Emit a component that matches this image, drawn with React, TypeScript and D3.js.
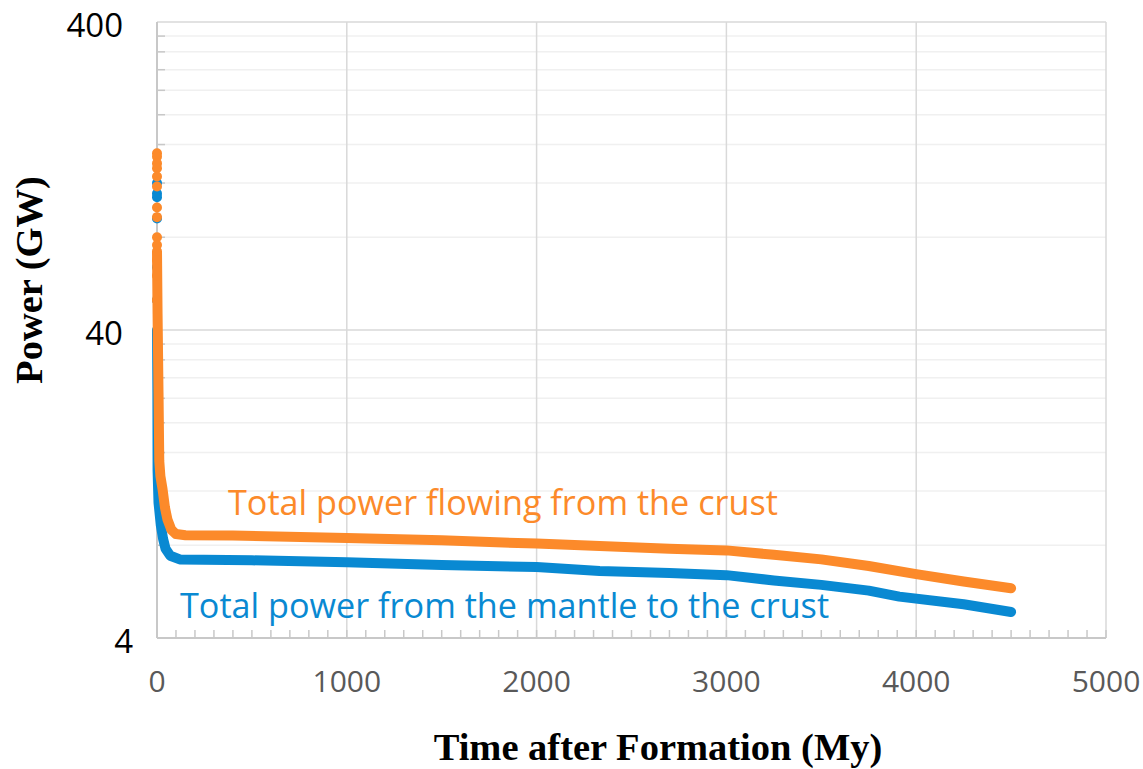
import React from 'react'
import * as d3 from 'd3'

// values
const crustSpike: [number, number][] = [
  [0, 150], [0, 146], [0, 139], [0, 134], [0, 126], [0, 117], [0, 100],
  [0, 93], [0, 80], [0, 75.5], [0, 67.5], [0, 60], [0, 50],
]
const mantleSpike: [number, number][] = [
  [0, 120], [0, 111], [0, 108], [0, 92], [0, 64], [0, 50], [0, 39],
]
const crustCurve: [number, number][] = [
  [0, 72], [3, 45], [8, 25], [12, 15], [18, 13.4], [29, 12.2], [42, 10.6], [55, 9.7],
  [75, 9.0], [100, 8.7], [150, 8.62],
  [400, 8.6], [1000, 8.45], [1500, 8.3], [2000, 8.1], [2332, 7.95], [2700, 7.8],
  [3000, 7.7], [3250, 7.45], [3500, 7.2], [3750, 6.85], [4000, 6.45], [4250, 6.1], [4500, 5.8],
]
const mantleCurve: [number, number][] = [
  [0, 40], [2, 25], [3, 14], [8, 11], [20, 9.3], [32, 8.4], [45, 7.8], [70, 7.4], [120, 7.2],
  [500, 7.15], [1000, 7.05], [1500, 6.9], [2000, 6.8], [2332, 6.6], [2700, 6.5],
  [3000, 6.4], [3250, 6.15], [3500, 5.95], [3750, 5.7], [3911, 5.45], [4250, 5.15], [4500, 4.86],
]
const xTicks = [0, 1000, 2000, 3000, 4000, 5000]
const yTicks = [4, 40, 400]
const yMinor = [8, 12, 16, 20, 24, 28, 32, 36, 80, 120, 160, 200, 240, 280, 320, 360]
const xMinor = d3.range(0, 5001, 100)

const ORANGE = '#FC8A2A'
const BLUE = '#0989D2'
const GRID = '#d9d9d9'
const MINOR = '#f0f0f0'

export default function App() {
  const x = d3.scaleLinear().domain([0, 5000]).range([157, 1106])
  const y = d3.scaleLog().domain([4, 400]).range([638, 22])
  const line = d3.line<[number, number]>().x(d => x(d[0])).y(d => y(d[1])).curve(d3.curveLinear)

  return (
    <svg width={1143} height={769} style={{ position: 'absolute', left: 0, top: 0, background: '#fff' }}>
      {/* minor horizontal gridlines */}
      {yMinor.map(v => (
        <line key={'ym' + v} x1={x(0)} x2={x(5000)} y1={y(v)} y2={y(v)} stroke={MINOR} strokeWidth={1.5} />
      ))}
      {/* major gridlines */}
      {yTicks.map(v => (
        <line key={'yg' + v} x1={x(0)} x2={x(5000)} y1={y(v)} y2={y(v)} stroke={GRID} strokeWidth={1.5} />
      ))}
      {xTicks.slice(1).map(v => (
        <line key={'xg' + v} x1={x(v)} x2={x(v)} y1={y(400)} y2={y(4)} stroke={GRID} strokeWidth={1.5} />
      ))}
      {/* axes */}
      <line x1={x(0)} x2={x(0)} y1={y(400)} y2={y(4)} stroke="#c8c8c8" strokeWidth={2} />
      <line x1={x(0)} x2={x(5000)} y1={y(4)} y2={y(4)} stroke="#c8c8c8" strokeWidth={2} />
      {yMinor.map(v => (
        <line key={'yt' + v} x1={x(0)} x2={x(0) + 8} y1={y(v)} y2={y(v)} stroke="#c8c8c8" strokeWidth={1.5} />
      ))}
      {xMinor.map(v => (
        <line key={'xt' + v} x1={x(v)} x2={x(v)} y1={y(4)} y2={y(4) - 8} stroke="#c8c8c8" strokeWidth={1.5} />
      ))}

      {/* series */}
      <path d={line(mantleCurve) ?? ''} fill="none" stroke={BLUE} strokeWidth={10} strokeLinejoin="round" strokeLinecap="round" />
      {mantleSpike.map((d, i) => (
        <circle key={'ms' + i} cx={x(d[0])} cy={y(d[1])} r={5} fill={BLUE} />
      ))}
      <path d={line(crustCurve) ?? ''} fill="none" stroke={ORANGE} strokeWidth={10} strokeLinejoin="round" strokeLinecap="round" />
      {crustSpike.map((d, i) => (
        <circle key={'cs' + i} cx={x(d[0])} cy={y(d[1])} r={5} fill={ORANGE} />
      ))}

      {/* tick labels */}
      {yTicks.map(v => (
        <text key={'yl' + v} x={v === 4 ? 133 : 123} y={y(v) + 2} textAnchor="end" dominantBaseline="central"
          fontFamily="Open Sans" fontSize={33} fill="#000">{v}</text>
      ))}
      {xTicks.map(v => (
        <text key={'xl' + v} x={x(v)} y={692} textAnchor="middle"
          fontFamily="Open Sans" fontSize={30} fill="#595959">{v}</text>
      ))}

      {/* series labels */}
      <text x={228} y={515} fontFamily="Open Sans" fontSize={34.2} fill={ORANGE}>Total power flowing from the crust</text>
      <text x={180} y={618} fontFamily="Open Sans" fontSize={34.2} fill={BLUE}>Total power from the mantle to the crust</text>

      {/* axis titles */}
      <text x={658} y={760} textAnchor="middle" fontFamily="Liberation Serif" fontWeight="bold" fontSize={38.5} fill="#000">
        Time after Formation (My)
      </text>
      <text transform="translate(42,280) rotate(-90)" textAnchor="middle" fontFamily="Liberation Serif" fontWeight="bold" fontSize={38.5} fill="#000">
        Power (GW)
      </text>
    </svg>
  )
}
